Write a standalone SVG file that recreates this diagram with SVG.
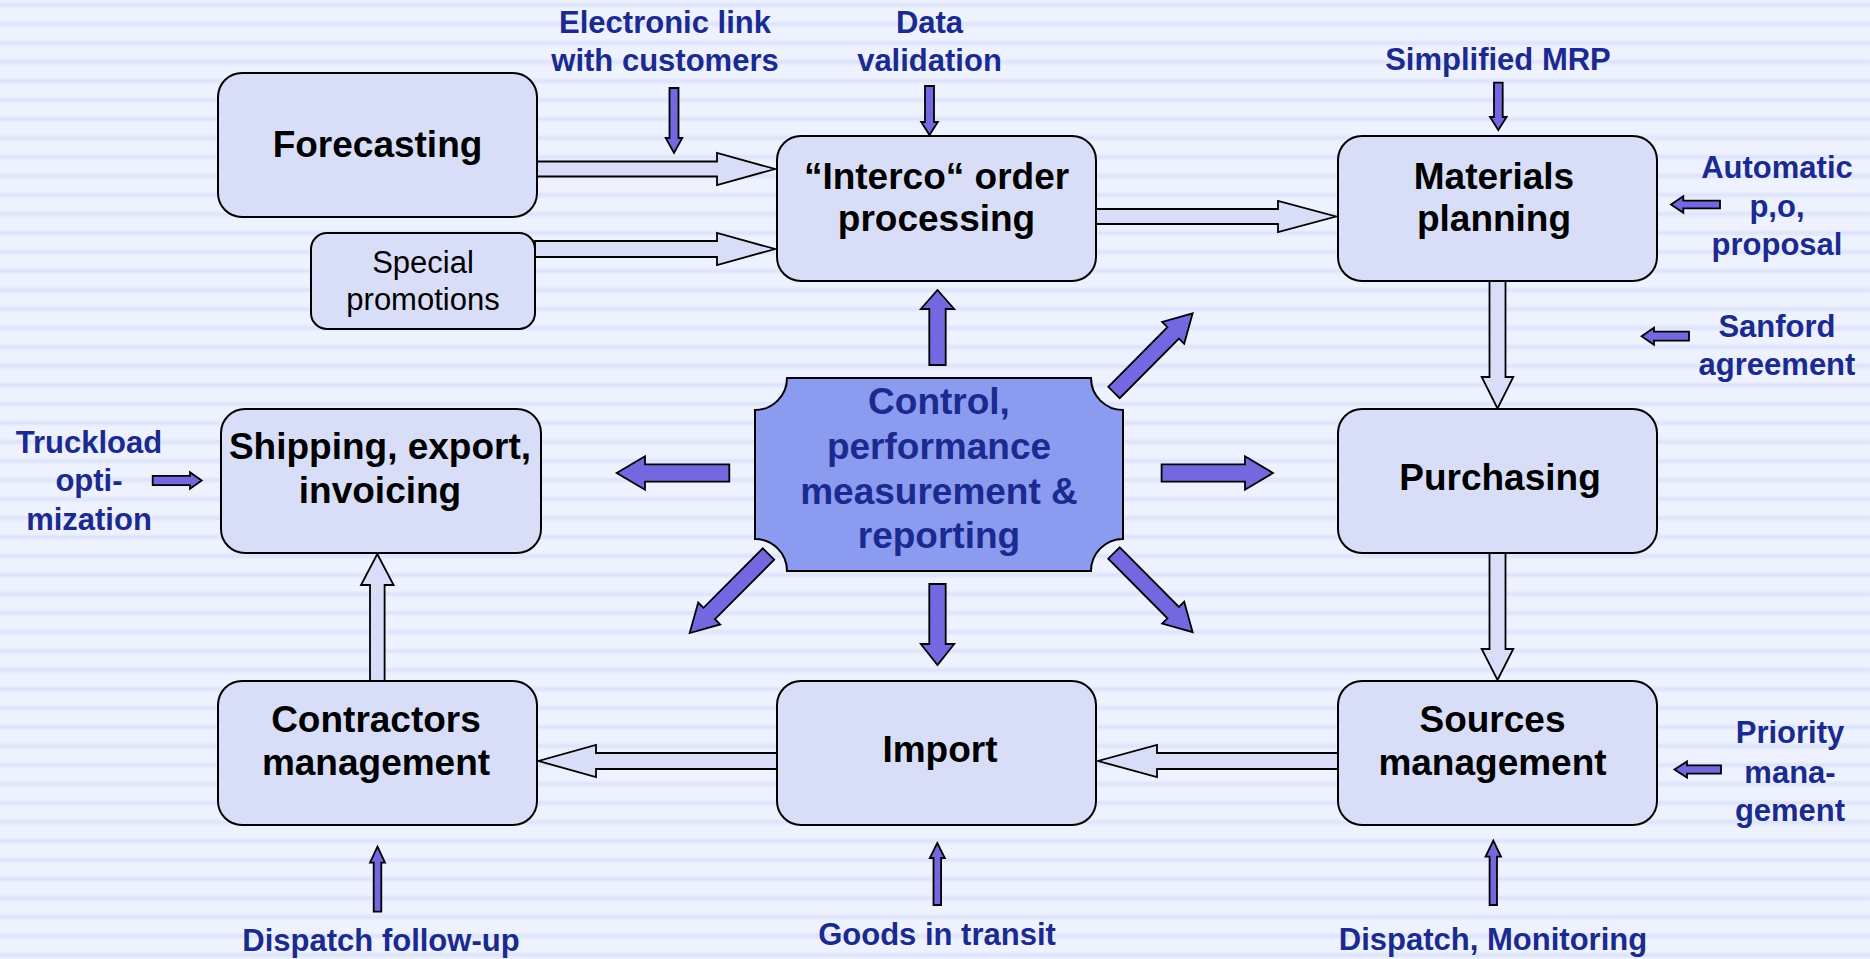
<svg xmlns="http://www.w3.org/2000/svg" xmlns:xlink="http://www.w3.org/1999/xlink" width="1870" height="959" viewBox="0 0 1870 959">
<style>
.box{fill:#D9DEF8;stroke:#000;stroke-width:2}
.ctrl{fill:#8A9BF0;stroke:#000;stroke-width:2}
.hollow{fill:#D9DEF8;stroke:#000;stroke-width:1.8;stroke-linejoin:miter}
.solid{fill:#7468E0;stroke:#000;stroke-width:1.8;stroke-linejoin:miter}
.lbl{font-family:"Liberation Sans",Arial,sans-serif;font-weight:bold;font-size:37px;fill:#000;text-anchor:middle}
.reg{font-family:"Liberation Sans",Arial,sans-serif;font-size:31px;fill:#000;text-anchor:middle}
.ctxt{font-family:"Liberation Sans",Arial,sans-serif;font-weight:bold;font-size:37px;fill:#1B2A8F;text-anchor:middle}
.ext{font-family:"Liberation Sans",Arial,sans-serif;font-weight:bold;font-size:31px;fill:#1B2A8F;text-anchor:middle}
</style>
<defs>
<linearGradient id="stripeGrad" x1="0" y1="0" x2="0" y2="1">
<stop offset="0" stop-color="#EEF2FE"/>
<stop offset="0.3" stop-color="#EEF2FE"/>
<stop offset="0.5" stop-color="#DCE2FA"/>
<stop offset="0.7" stop-color="#EEF2FE"/>
<stop offset="1" stop-color="#EEF2FE"/>
</linearGradient>
<pattern id="stripes" patternUnits="userSpaceOnUse" x="0" y="-4.5" width="1870" height="19">
<rect x="0" y="0" width="1870" height="19" fill="url(#stripeGrad)"/>
</pattern>
<polygon id="diagArrow" points="0,-8.1 84,-8.1 84,-15.5 111.6,0 84,15.5 84,8.1 0,8.1"/>
</defs>
<rect x="0" y="0" width="1870" height="959" fill="url(#stripes)"/>

<g id="connectors">
<!-- hollow flow arrows -->
<polygon class="hollow" points="537,161.5 717,161.5 717,153 775,169 717,185 717,176.5 537,176.5"/>
<polygon class="hollow" points="535,241 717,241 717,233 775,249 717,265 717,257 535,257"/>
<polygon class="hollow" points="1096,209 1278,209 1278,201 1336,216.5 1278,232 1278,224 1096,224"/>
<polygon class="hollow" points="1489.5,281 1505.5,281 1505.5,377 1513.3,377 1497.5,408.5 1481.7,377 1489.5,377"/>
<polygon class="hollow" points="1489.5,553 1505.5,553 1505.5,649 1513.3,649 1497.5,680 1481.7,649 1489.5,649"/>
<polygon class="hollow" points="1338,753 1157,753 1157,745 1098,761 1157,777 1157,769 1338,769"/>
<polygon class="hollow" points="777,753 596,753 596,745 538.5,761 596,777 596,769 777,769"/>
<polygon class="hollow" points="370,681 384.6,681 384.6,585 393.6,585 377.3,554 361,585 370,585"/>
<!-- small input arrows -->
<polygon class="solid" points="669.5,88 678.5,88 678.5,138 682.3,138 674,153 665.7,138 669.5,138"/>
<polygon class="solid" points="925,86 934,86 934,122 937.8,122 929.5,135 921.2,122 925,122"/>
<polygon class="solid" points="1494,82.7 1502.7,82.7 1502.7,117 1506.6,117 1498.3,130 1490,117 1494,117"/>
<polygon class="solid" points="1720,200.7 1683.3,200.7 1683.3,196.2 1671,204.5 1683.3,212.8 1683.3,208.3 1720,208.3"/>
<polygon class="solid" points="1689,331.7 1654,331.7 1654,327.7 1641.6,336.2 1654,344.7 1654,340.7 1689,340.7"/>
<polygon class="solid" points="1721,765.3 1687,765.3 1687,761.5 1674.4,769.5 1687,777.5 1687,773.7 1721,773.7"/>
<polygon class="solid" points="152.7,475.8 190,475.8 190,472.2 201.7,480.5 190,488.8 190,485.2 152.7,485.2"/>
<polygon class="solid" points="373.7,911.7 381.3,911.7 381.3,862.7 385,862.7 377.5,846.7 370,862.7 373.7,862.7"/>
<polygon class="solid" points="933.5,905 941.1,905 941.1,858 944.8,858 937.3,843 929.8,858 933.5,858"/>
<polygon class="solid" points="1489.6,905 1497,905 1497,856.7 1501,856.7 1493.3,840.7 1485.6,856.7 1489.6,856.7"/>
<!-- control arrows -->
<polygon class="solid" points="929.3,365 945.7,365 945.7,309 954.2,309 937.5,290 920.8,309 929.3,309"/>
<polygon class="solid" points="929.3,584 945.7,584 945.7,644 954.2,644 937.5,665 920.8,644 929.3,644"/>
<polygon class="solid" points="729.3,464.3 645,464.3 645,456.3 616.7,473 645,489.7 645,481.7 729.3,481.7"/>
<polygon class="solid" points="1161.6,464.3 1245,464.3 1245,456.3 1273,473 1245,489.7 1245,481.7 1161.6,481.7"/>
<use class="solid" xlink:href="#diagArrow" href="#diagArrow" transform="translate(1114,392.5) rotate(-45.2)"/>
<use class="solid" xlink:href="#diagArrow" href="#diagArrow" transform="translate(1114,553) rotate(45.2)"/>
<use class="solid" xlink:href="#diagArrow" href="#diagArrow" transform="translate(768.5,554) rotate(134.9)"/>
</g>

<g id="forecasting">
<rect class="box" x="218" y="73" width="319" height="144" rx="24"/>
<text class="lbl" x="377.5" y="157">Forecasting</text>
</g>
<g id="special-promotions">
<rect class="box" x="311" y="233" width="224" height="96" rx="16"/>
<text class="reg" x="423" y="273">Special</text>
<text class="reg" x="423" y="310">promotions</text>
</g>
<g id="interco">
<rect class="box" x="777" y="136" width="319" height="145" rx="24"/>
<text class="lbl" x="936.5" y="189">“Interco“ order</text>
<text class="lbl" x="936.5" y="231">processing</text>
</g>
<g id="materials-planning">
<rect class="box" x="1338" y="136" width="319" height="145" rx="24"/>
<text class="lbl" x="1494" y="189">Materials</text>
<text class="lbl" x="1494" y="231">planning</text>
</g>
<g id="purchasing">
<rect class="box" x="1338" y="409" width="319" height="144" rx="24"/>
<text class="lbl" x="1500" y="490">Purchasing</text>
</g>
<g id="sources-management">
<rect class="box" x="1338" y="681" width="319" height="144" rx="24"/>
<text class="lbl" x="1492.5" y="732">Sources</text>
<text class="lbl" x="1492.5" y="775">management</text>
</g>
<g id="import">
<rect class="box" x="777" y="681" width="319" height="144" rx="24"/>
<text class="lbl" x="940" y="762">Import</text>
</g>
<g id="contractors-management">
<rect class="box" x="218" y="681" width="319" height="144" rx="24"/>
<text class="lbl" x="376" y="732">Contractors</text>
<text class="lbl" x="376" y="775">management</text>
</g>
<g id="shipping">
<rect class="box" x="221" y="409" width="320" height="144" rx="24"/>
<text class="lbl" x="380" y="459">Shipping, export,</text>
<text class="lbl" x="380" y="503">invoicing</text>
</g>
<g id="control">
<path class="ctrl" d="M787,378 H1091 A32,32 0 0 0 1123,410 V539 A32,32 0 0 0 1091,571 H787 A32,32 0 0 0 755,539 V410 A32,32 0 0 0 787,378 Z"/>
<text class="ctxt" x="939" y="414">Control,</text>
<text class="ctxt" x="939" y="459">performance</text>
<text class="ctxt" x="939" y="504">measurement &amp;</text>
<text class="ctxt" x="939" y="548">reporting</text>
</g>

<g id="labels">
<text class="ext" x="665" y="33">Electronic link</text>
<text class="ext" x="665" y="71">with customers</text>
<text class="ext" x="929.5" y="33">Data</text>
<text class="ext" x="929.5" y="71">validation</text>
<text class="ext" x="1498" y="70">Simplified MRP</text>
<text class="ext" x="1777" y="178">Automatic</text>
<text class="ext" x="1777" y="217">p,o,</text>
<text class="ext" x="1777" y="255">proposal</text>
<text class="ext" x="1777" y="337">Sanford</text>
<text class="ext" x="1777" y="375">agreement</text>
<text class="ext" x="89" y="453">Truckload</text>
<text class="ext" x="89" y="491">opti-</text>
<text class="ext" x="89" y="530">mization</text>
<text class="ext" x="1790" y="743">Priority</text>
<text class="ext" x="1790" y="783">mana-</text>
<text class="ext" x="1790" y="821">gement</text>
<text class="ext" x="381" y="951">Dispatch follow-up</text>
<text class="ext" x="937" y="945">Goods in transit</text>
<text class="ext" x="1493" y="950">Dispatch, Monitoring</text>
</g>
</svg>
